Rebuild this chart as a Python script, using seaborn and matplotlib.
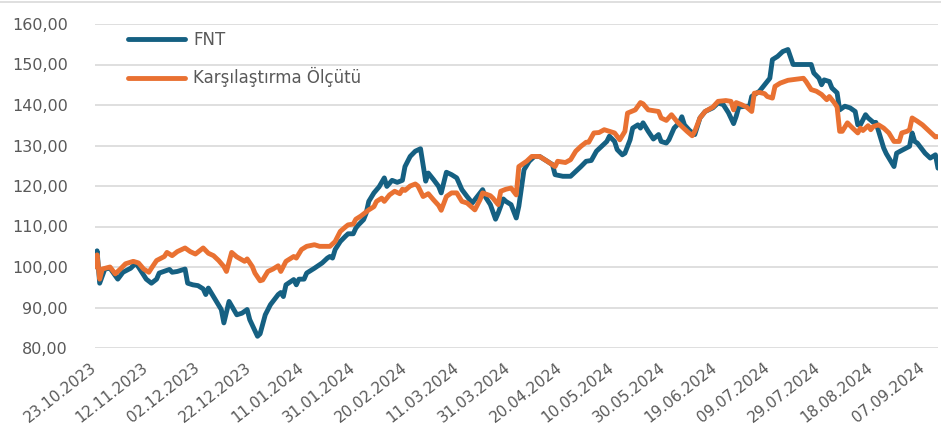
import pandas as pd
import matplotlib
matplotlib.use("Agg")
import matplotlib.pyplot as plt
import matplotlib.ticker as mticker
from matplotlib.lines import Line2D
import seaborn as sns

# FNT fund index (start = 100)
fnt_dates = [
    "2023-10-23", "2023-10-24", "2023-10-25", "2023-10-27", "2023-10-29",
    "2023-11-01", "2023-11-03", "2023-11-06", "2023-11-08", "2023-11-09", "2023-11-12", "2023-11-14", "2023-11-16",
    "2023-11-17", "2023-11-21", "2023-11-22", "2023-11-24", "2023-11-27", "2023-11-28", "2023-11-30",
    "2023-12-02", "2023-12-04", "2023-12-05", "2023-12-06", "2023-12-08", "2023-12-11", "2023-12-12", "2023-12-14",
    "2023-12-17", "2023-12-19", "2023-12-21", "2023-12-22", "2023-12-25", "2023-12-26", "2023-12-28", "2023-12-30",
    "2024-01-02", "2024-01-03", "2024-01-04", "2024-01-05", "2024-01-08", "2024-01-09", "2024-01-10", "2024-01-12",
    "2024-01-13", "2024-01-16", "2024-01-19", "2024-01-21", "2024-01-22", "2024-01-23", "2024-01-24", "2024-01-26",
    "2024-01-28", "2024-01-29", "2024-01-31",
    "2024-02-01", "2024-02-02", "2024-02-04", "2024-02-05", "2024-02-06", "2024-02-08", "2024-02-10", "2024-02-12",
    "2024-02-13", "2024-02-15", "2024-02-17", "2024-02-19", "2024-02-20", "2024-02-22", "2024-02-24", "2024-02-26",
    "2024-02-28", "2024-02-29",
    "2024-03-02", "2024-03-04", "2024-03-05", "2024-03-07", "2024-03-09", "2024-03-11", "2024-03-13", "2024-03-15",
    "2024-03-17", "2024-03-21", "2024-03-22", "2024-03-24", "2024-03-26", "2024-03-27", "2024-03-29", "2024-03-30",
    "2024-04-01", "2024-04-03", "2024-04-04", "2024-04-06", "2024-04-08", "2024-04-10", "2024-04-12", "2024-04-14",
    "2024-04-17", "2024-04-18", "2024-04-21", "2024-04-24", "2024-04-26", "2024-04-28", "2024-04-30",
    "2024-05-02", "2024-05-04", "2024-05-06", "2024-05-08", "2024-05-09", "2024-05-11", "2024-05-12", "2024-05-14",
    "2024-05-15", "2024-05-17", "2024-05-18", "2024-05-20", "2024-05-21", "2024-05-22", "2024-05-24", "2024-05-26",
    "2024-05-28", "2024-05-29", "2024-05-31",
    "2024-06-01", "2024-06-03", "2024-06-05", "2024-06-06", "2024-06-07", "2024-06-09", "2024-06-11", "2024-06-13",
    "2024-06-15", "2024-06-18", "2024-06-20", "2024-06-22", "2024-06-24", "2024-06-26", "2024-06-27", "2024-06-28",
    "2024-07-01", "2024-07-02", "2024-07-03", "2024-07-06", "2024-07-08", "2024-07-10", "2024-07-11", "2024-07-13",
    "2024-07-15", "2024-07-17", "2024-07-19", "2024-07-26", "2024-07-27", "2024-07-29", "2024-07-30", "2024-07-31",
    "2024-08-02", "2024-08-03", "2024-08-05", "2024-08-06", "2024-08-08", "2024-08-10", "2024-08-12", "2024-08-13",
    "2024-08-14", "2024-08-16", "2024-08-17", "2024-08-19", "2024-08-20", "2024-08-23", "2024-08-24", "2024-08-27",
    "2024-08-28", "2024-08-30",
    "2024-09-02", "2024-09-03", "2024-09-04", "2024-09-05", "2024-09-08", "2024-09-10", "2024-09-12", "2024-09-13",
]
fnt_values = [
    100.0, 104.0, 96.0, 99.5, 99.7,
    97.0, 98.7, 99.7, 101.0, 100.0, 97.0, 96.0, 97.0,
    98.5, 99.4, 98.7, 98.9, 99.5, 96.0, 95.6,
    95.4, 94.6, 93.2, 94.8, 92.7, 89.5, 86.2, 91.5,
    88.2, 88.6, 89.5, 87.0, 82.9, 83.5, 88.2, 90.7,
    93.2, 93.7, 92.7, 95.6, 96.9, 95.6, 97.0, 97.0,
    98.5, 99.7, 101.0, 102.2, 102.6, 102.2, 104.3, 106.3,
    107.6, 108.2, 108.2,
    109.6, 110.4, 111.7, 113.3, 116.2, 118.3, 119.8, 122.0,
    119.9, 121.4, 120.9, 121.4, 124.8, 127.3, 128.6, 129.2,
    121.2, 123.2,
    121.6, 119.9, 118.3, 123.4, 122.8, 122.0, 119.1, 117.4,
    115.8, 119.1, 117.4, 115.4, 111.8, 113.3, 116.8, 116.2,
    115.4, 112.1, 115.0, 124.0, 126.1, 127.3, 127.3, 126.5,
    125.3, 122.8, 122.4, 122.4, 123.6, 124.8, 126.1,
    126.3, 128.6, 129.8, 131.0, 132.3, 131.0, 129.0, 127.7,
    128.1, 131.4, 134.3, 135.1, 134.3, 135.6, 133.5, 131.6,
    132.7, 131.0, 130.6,
    131.4, 134.3, 135.6, 137.1, 135.1, 133.7, 132.7, 136.8,
    138.4, 139.3, 140.5, 140.1, 138.1, 135.4, 137.2, 139.5,
    139.7, 139.3, 142.1, 143.4, 145.0, 146.6, 151.2, 152.0,
    153.2, 153.7, 150.0, 150.0, 147.9, 146.6, 145.0, 146.2,
    145.8, 144.2, 143.0, 138.8, 139.7, 139.3, 138.4, 135.1,
    135.1, 137.6, 136.8, 135.7, 135.7, 129.4, 128.0, 124.8,
    128.1, 128.8,
    129.8, 133.1, 131.0, 130.6, 128.1, 126.9, 127.7, 124.4,
]

# Benchmark (Karşılaştırma Ölçütü)
bench_dates = [
    "2023-10-23", "2023-10-24", "2023-10-25", "2023-10-26", "2023-10-29", "2023-10-31",
    "2023-11-02", "2023-11-04", "2023-11-07", "2023-11-09", "2023-11-11", "2023-11-13", "2023-11-14",
    "2023-11-16", "2023-11-19", "2023-11-20", "2023-11-22", "2023-11-24", "2023-11-27", "2023-11-29",
    "2023-12-01", "2023-12-04", "2023-12-06", "2023-12-08", "2023-12-10", "2023-12-12", "2023-12-13", "2023-12-15",
    "2023-12-17", "2023-12-20", "2023-12-21", "2023-12-23", "2023-12-24", "2023-12-26", "2023-12-27", "2023-12-29",
    "2023-12-31",
    "2024-01-02", "2024-01-03", "2024-01-05", "2024-01-08", "2024-01-09", "2024-01-11", "2024-01-13", "2024-01-16",
    "2024-01-18", "2024-01-22", "2024-01-24", "2024-01-26", "2024-01-28", "2024-01-29", "2024-01-31",
    "2024-02-01", "2024-02-03", "2024-02-06", "2024-02-08", "2024-02-09", "2024-02-11", "2024-02-12", "2024-02-14",
    "2024-02-16", "2024-02-18", "2024-02-19", "2024-02-20", "2024-02-22", "2024-02-24", "2024-02-25", "2024-02-27",
    "2024-02-29",
    "2024-03-02", "2024-03-04", "2024-03-05", "2024-03-07", "2024-03-09", "2024-03-11", "2024-03-13", "2024-03-15",
    "2024-03-18", "2024-03-20", "2024-03-21", "2024-03-24", "2024-03-25", "2024-03-27", "2024-03-28", "2024-03-30",
    "2024-04-01", "2024-04-03", "2024-04-04", "2024-04-07", "2024-04-09", "2024-04-12", "2024-04-15", "2024-04-18",
    "2024-04-19", "2024-04-22", "2024-04-24", "2024-04-26", "2024-04-28", "2024-04-30",
    "2024-05-01", "2024-05-03", "2024-05-05", "2024-05-07", "2024-05-09", "2024-05-11", "2024-05-13", "2024-05-15",
    "2024-05-16", "2024-05-19", "2024-05-21", "2024-05-22", "2024-05-24", "2024-05-26", "2024-05-28", "2024-05-29",
    "2024-05-31",
    "2024-06-02", "2024-06-04", "2024-06-06", "2024-06-08", "2024-06-10", "2024-06-11", "2024-06-13", "2024-06-15",
    "2024-06-18", "2024-06-20", "2024-06-23", "2024-06-25", "2024-06-26", "2024-06-27", "2024-06-29",
    "2024-07-01", "2024-07-03", "2024-07-04", "2024-07-06", "2024-07-08", "2024-07-09", "2024-07-11", "2024-07-12",
    "2024-07-14", "2024-07-17", "2024-07-23", "2024-07-24", "2024-07-26", "2024-07-28", "2024-07-30",
    "2024-08-01", "2024-08-02", "2024-08-04", "2024-08-05", "2024-08-06", "2024-08-07", "2024-08-09", "2024-08-11",
    "2024-08-13", "2024-08-14", "2024-08-15", "2024-08-17", "2024-08-18", "2024-08-19", "2024-08-21", "2024-08-23",
    "2024-08-25", "2024-08-27", "2024-08-29", "2024-08-30",
    "2024-09-01", "2024-09-02", "2024-09-03", "2024-09-05", "2024-09-07", "2024-09-09", "2024-09-12", "2024-09-13",
]
bench_values = [
    100.0, 103.0, 97.0, 99.5, 100.0, 98.3,
    99.5, 100.8, 101.4, 101.0, 99.5, 98.7, 99.7,
    101.6, 102.6, 103.6, 102.8, 103.8, 104.7, 103.8,
    103.2, 104.7, 103.4, 102.8, 101.6, 100.1, 98.9, 103.6,
    102.5, 101.4, 102.0, 100.1, 98.5, 96.6, 96.8, 98.9,
    99.5,
    100.3, 98.9, 101.4, 102.6, 102.2, 104.3, 105.1, 105.5,
    105.1, 105.1, 106.3, 108.8, 109.9, 110.4, 110.6,
    111.8, 112.6, 114.1, 114.9, 116.2, 117.0, 116.2, 117.8,
    118.7, 118.1, 119.2, 118.9, 120.0, 120.5, 120.0, 117.4,
    118.1,
    116.6, 115.2, 114.0, 117.4, 118.3, 118.3, 116.2, 115.8,
    114.1, 116.6, 118.3, 117.6, 117.0, 115.4, 118.7, 119.2,
    119.5, 117.8, 124.8, 126.1, 127.3, 127.3, 126.1, 124.8,
    126.1, 125.8, 126.5, 128.6, 129.8, 130.8,
    130.8, 133.1, 133.2, 133.9, 133.5, 133.1, 131.4, 133.5,
    138.0, 138.8, 140.6, 140.3, 138.8, 138.6, 138.4, 136.8,
    136.2,
    137.6, 136.0, 134.7, 133.5, 132.4, 133.5, 136.8, 138.4,
    139.5, 140.9, 141.1, 140.9, 138.8, 140.6, 140.1,
    139.5, 138.4, 142.9, 143.1, 142.8, 142.1, 141.7, 144.6,
    145.4, 146.1, 146.6, 145.8, 143.8, 143.4, 142.6,
    141.3, 142.1, 140.5, 139.5, 133.5, 133.5, 135.6, 134.3,
    133.1, 134.3, 133.7, 134.9, 133.9, 134.7, 135.1, 134.3,
    133.1, 131.0, 131.0, 133.1,
    133.5, 133.9, 136.8, 136.0, 135.1, 133.9, 132.1, 132.2,
]

series_names = ["FNT", "Karşılaştırma Ölçütü"]
series_colors = ["#156082", "#E97132"]

df = pd.concat([
    pd.DataFrame({"tarih": pd.to_datetime(fnt_dates), "deger": fnt_values, "seri": series_names[0]}),
    pd.DataFrame({"tarih": pd.to_datetime(bench_dates), "deger": bench_values, "seri": series_names[1]}),
], ignore_index=True)

sns.set_theme(style="white")
plt.rcParams["font.family"] = ["DejaVu Sans"]
text_grey = "#595959"
grid_grey = "#D9D9D9"

fig = plt.figure(figsize=(9.41, 4.30), dpi=100)
ax = fig.add_axes([94.5 / 941, 1 - 348 / 430, (938 - 94.5) / 941, (348 - 24) / 430])

sns.lineplot(data=df, x="tarih", y="deger", hue="seri", hue_order=series_names,
             palette=series_colors, estimator=None, linewidth=3.5, ax=ax,
             solid_capstyle="round", solid_joinstyle="round")

# axes
start = pd.Timestamp(fnt_dates[0])
end = pd.Timestamp(fnt_dates[-1])
ax.set_xlim(start, end)
ax.set_ylim(80, 160)
ax.set_yticks(range(80, 161, 10))
ax.yaxis.set_major_formatter(mticker.FuncFormatter(lambda v, p: f"{v:.2f}".replace(".", ",")))
xticks = pd.date_range(start, end, freq="20D")
ax.set_xticks(xticks)
ax.set_xticklabels([d.strftime("%d.%m.%Y") for d in xticks], rotation=38, ha="right",
                   va="center", rotation_mode="anchor")
ax.tick_params(axis="y", length=0, pad=19, labelsize=11.5, labelcolor=text_grey)
ax.tick_params(axis="x", length=0, pad=13, labelsize=11, labelcolor=text_grey)
ax.set_xlabel("")
ax.set_ylabel("")
ax.grid(axis="y", color=grid_grey, linewidth=1.2)
ax.set_axisbelow(True)
for s in ax.spines.values():
    s.set_visible(False)

handles, labels = ax.get_legend_handles_labels()
leg = ax.legend(handles, labels, loc="upper left", bbox_to_anchor=(128 / 941, 1 - 31 / 430),
                bbox_transform=fig.transFigure, frameon=False, fontsize=12, handlelength=3.4,
                handletextpad=0.5, labelspacing=1.1, borderpad=0, borderaxespad=0)
for line in leg.get_lines():
    line.set_linewidth(3.5)
    line.set_solid_capstyle("round")
for t in leg.get_texts():
    t.set_color(text_grey)

# thin chart border line at the top
fig.add_artist(Line2D([0, 1], [1 - 1.5 / 430, 1 - 1.5 / 430], color=grid_grey, linewidth=1.2))

fig.savefig("out.png", dpi=100)
